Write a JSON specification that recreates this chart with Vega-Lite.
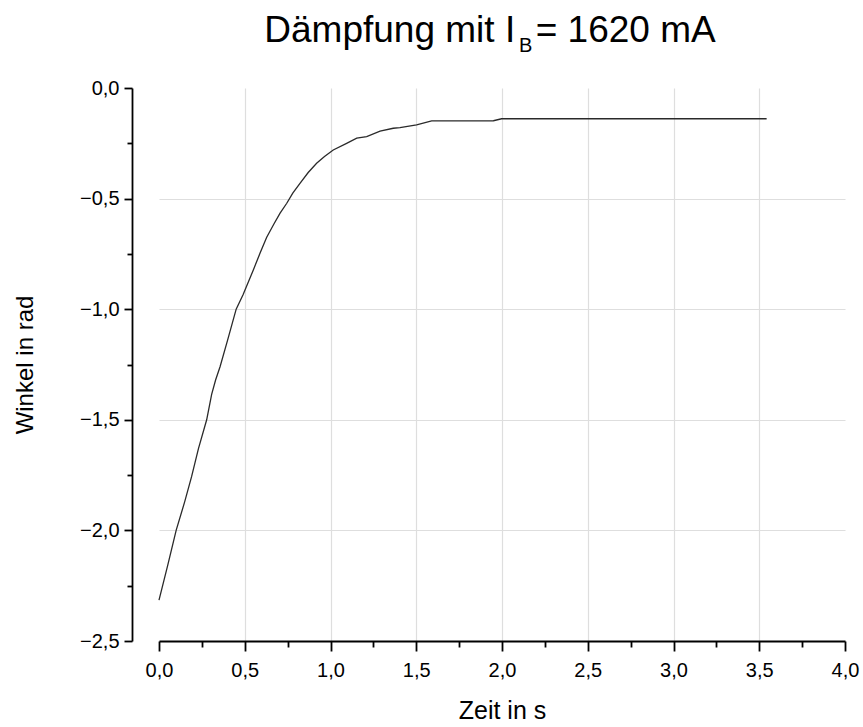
{
  "$schema": "https://vega.github.io/schema/vega-lite/v6.json",
  "width": 686,
  "height": 553,
  "autosize": {"type": "none"},
  "padding": {"left": 159, "top": 88, "right": 18, "bottom": 86},
  "background": "white",
  "config": {
    "view": {"stroke": null},
    "font": "Liberation Sans",
    "locale": {"number": {"decimal": ",", "thousands": ".", "grouping": [3], "currency": ["", " €"]}}
  },
  "title": {
    "text": "Dämpfung mit I\u00a0\u00a0= 1620 mA",
    "font": "Liberation Sans",
    "fontSize": 37,
    "fontWeight": "normal",
    "color": "black",
    "anchor": "middle",
    "frame": "group",
    "baseline": "alphabetic",
    "offset": 0,
    "dx": -12,
    "dy": 43
  },
  "layer": [
    {
      "data": {
        "values": [
          {"t": 0.0, "w": -2.315},
          {"t": 0.05, "w": -2.16},
          {"t": 0.1, "w": -2.0},
          {"t": 0.15, "w": -1.87},
          {"t": 0.19, "w": -1.757},
          {"t": 0.23, "w": -1.63},
          {"t": 0.278, "w": -1.5},
          {"t": 0.307, "w": -1.385},
          {"t": 0.33, "w": -1.32},
          {"t": 0.356, "w": -1.26},
          {"t": 0.4, "w": -1.14},
          {"t": 0.45, "w": -1.0},
          {"t": 0.49, "w": -0.935},
          {"t": 0.55, "w": -0.823},
          {"t": 0.59, "w": -0.745},
          {"t": 0.628, "w": -0.675},
          {"t": 0.67, "w": -0.615},
          {"t": 0.706, "w": -0.566},
          {"t": 0.745, "w": -0.521},
          {"t": 0.78, "w": -0.475},
          {"t": 0.822, "w": -0.431},
          {"t": 0.87, "w": -0.382},
          {"t": 0.919, "w": -0.34},
          {"t": 0.965, "w": -0.31},
          {"t": 1.016, "w": -0.28},
          {"t": 1.094, "w": -0.25},
          {"t": 1.153, "w": -0.227},
          {"t": 1.211, "w": -0.22},
          {"t": 1.289, "w": -0.195},
          {"t": 1.366, "w": -0.182},
          {"t": 1.405, "w": -0.179},
          {"t": 1.502, "w": -0.167},
          {"t": 1.59, "w": -0.149},
          {"t": 1.95, "w": -0.148},
          {"t": 1.998, "w": -0.139},
          {"t": 2.5, "w": -0.139},
          {"t": 3.0, "w": -0.139},
          {"t": 3.543, "w": -0.139}
        ]
      },
      "mark": {"type": "line", "color": "#2a2a2a", "strokeWidth": 1.3},
      "encoding": {
        "x": {
          "field": "t",
          "type": "quantitative",
          "scale": {"domain": [0, 4], "nice": false, "zero": false},
          "axis": {
            "values": [0, 0.25, 0.5, 0.75, 1, 1.25, 1.5, 1.75, 2, 2.25, 2.5, 2.75, 3, 3.25, 3.5, 3.75, 4],
            "labelExpr": "(datum.value*4)%2 != 0 ? '' : format(datum.value, '.1f')",
            "title": "Zeit in s",
            "titleFont": "Liberation Sans",
            "titleFontSize": 25,
            "titleFontWeight": "normal",
            "titleColor": "black",
            "titlePadding": 18,
            "labelFont": "Liberation Sans",
            "labelFontSize": 20,
            "labelColor": "black",
            "labelPadding": 9,
            "labelFlush": false,
            "labelOverlap": false,
            "domainColor": "black",
            "domainWidth": 1.8,
            "tickColor": "black",
            "tickWidth": 1.8,
            "tickSize": {"condition": {"test": "(datum.value*4)%2 != 0", "value": 6}, "value": 10},
            "grid": true,
            "gridColor": "#dedede",
            "gridWidth": 1.2,
            "gridOpacity": {"condition": {"test": "(datum.value*4)%2 != 0 || datum.value == 0 || datum.value == 4", "value": 0}, "value": 1}
          }
        },
        "y": {
          "field": "w",
          "type": "quantitative",
          "scale": {"domain": [-2.5, 0], "nice": false, "zero": false},
          "axis": {
            "values": [-2.5, -2.25, -2, -1.75, -1.5, -1.25, -1, -0.75, -0.5, -0.25, 0],
            "labelExpr": "(datum.value*4)%2 != 0 ? '' : format(datum.value, '.1f')",
            "title": "Winkel in rad",
            "titleFont": "Liberation Sans",
            "titleFontSize": 24,
            "titleFontWeight": "normal",
            "titleColor": "black",
            "titlePadding": 42,
            "labelFont": "Liberation Sans",
            "labelFontSize": 20,
            "labelColor": "black",
            "labelPadding": 5,
            "labelFlush": false,
            "labelOverlap": false,
            "offset": 27,
            "domainColor": "black",
            "domainWidth": 1.8,
            "tickColor": "black",
            "tickWidth": 1.8,
            "tickSize": {"condition": {"test": "(datum.value*4)%2 != 0", "value": 5}, "value": 8},
            "grid": true,
            "gridColor": "#dedede",
            "gridWidth": 1.2,
            "gridOpacity": {"condition": {"test": "(datum.value*4)%2 != 0 || datum.value == 0 || datum.value == -2.5", "value": 0}, "value": 1}
          }
        }
      }
    },
    {
      "data": {"values": [{"label": "B"}]},
      "mark": {"type": "text", "font": "Liberation Sans", "fontSize": 20, "align": "left", "baseline": "alphabetic", "color": "black"},
      "encoding": {
        "x": {"datum": 2.099},
        "y": {"datum": 0.1627},
        "text": {"field": "label"}
      }
    }
  ]
}
